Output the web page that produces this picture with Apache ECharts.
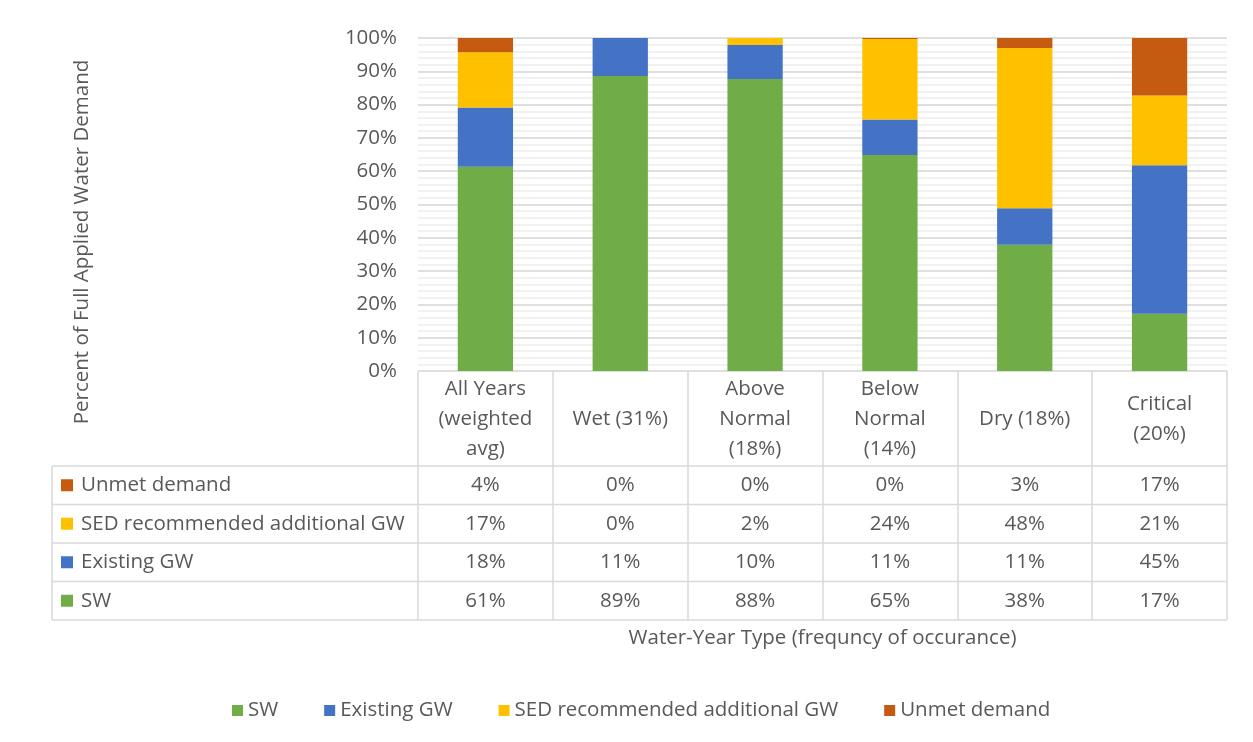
<!DOCTYPE html>
<html><head><meta charset="utf-8">
<script src="https://cdn.jsdelivr.net/npm/echarts@6/dist/echarts.min.js"></script>
<style>html,body{margin:0;padding:0;background:#fff}#c{width:1253px;height:742px}</style>
</head><body><div id="c"></div>
<script>
const categories = ['All Years\n(weighted\navg)', 'Wet (31%)', 'Above\nNormal\n(18%)', 'Below\nNormal\n(14%)', 'Dry (18%)', 'Critical\n(20%)'];
const seriesNames = ['SW', 'Existing GW', 'SED recommended additional GW', 'Unmet demand'];
const sw         = [61.3, 88.6, 87.7, 64.9, 37.9, 17.2];
const existingGW = [17.8, 11.4, 10.2, 10.6, 11.0, 44.6];
const sedGW      = [16.6, 0.0, 2.1, 24.2, 48.1, 20.9];
const unmet      = [4.3, 0.0, 0.0, 0.3, 3.0, 17.3];
const colors = ['#70AD47', '#4472C4', '#FFC000', '#C55A11'];
const yAxisTitle = 'Percent of Full Applied Water Demand';
const xAxisTitle = 'Water-Year Type (frequncy of occurance)';

const FONT = 'Open Sans';
const FS = 20.5;
const TXT = '#595959';
const BORDER = '#d9d9d9';
const seriesData = [sw, existingGW, sedGW, unmet];

const chart = echarts.init(document.getElementById('c'), null, {renderer: 'canvas'});
const option = {
  animation: false,
  textStyle: {fontFamily: FONT},
  grid: {left: 418, right: 26, top: 38, bottom: 371},
  legend: {
    data: seriesNames, bottom: 16, left: 227, icon: 'rect',
    itemWidth: 11, itemHeight: 11, itemGap: 46,
    textStyle: {fontFamily: FONT, fontSize: FS, color: TXT}
  },
  xAxis: {
    type: 'category', data: categories,
    axisLine: {show: false},
    axisTick: {show: true, interval: 0, length: 249, lineStyle: {color: BORDER, width: 1.5}},
    axisLabel: {interval: 0, margin: 48, verticalAlign: 'middle', align: 'center',
      fontFamily: FONT, fontSize: FS, color: TXT, lineHeight: 30},
    name: xAxisTitle, nameLocation: 'middle', nameGap: 257,
    nameTextStyle: {fontFamily: FONT, fontSize: FS, color: TXT}
  },
  yAxis: {
    type: 'value', min: 0, max: 100, interval: 10,
    axisLabel: {formatter: '{value}%', fontFamily: FONT, fontSize: FS, color: TXT, margin: 21},
    splitLine: {lineStyle: {color: '#d4d4d4', width: 1.5}},
    minorTick: {show: false, splitNumber: 5},
    minorSplitLine: {show: true, lineStyle: {color: '#ededed', width: 1.5}}
  },
  series: seriesNames.map((n, i) => ({
    name: n, type: 'bar', stack: 'total', barWidth: '41%',
    itemStyle: {color: colors[i]}, data: seriesData[i]
  }))
};
chart.setOption(option);

// Build data table from axis geometry
const x0 = chart.convertToPixel({gridIndex: 0}, [0, 0]);
const x1 = chart.convertToPixel({gridIndex: 0}, [1, 0]);
const band = x1[0] - x0[0];
const gridLeft = x0[0] - band / 2;
const gridRight = gridLeft + band * categories.length;
const baseY = x0[1];
const headerH = 95, rowH = 38.5;
const tableLeft = 52;
const g = [];
const line = (xa, ya, xb, yb) => g.push({type: 'line', shape: {x1: xa, y1: ya, x2: xb, y2: yb},
  style: {stroke: BORDER, lineWidth: 1.5}, silent: true});
for (let k = 0; k <= 4; k++) {
  const y = baseY + headerH + k * rowH;
  line(tableLeft, y, gridRight, y);
}
line(tableLeft, baseY + headerH, tableLeft, baseY + headerH + 4 * rowH);
const rowOrder = [3, 2, 1, 0];
rowOrder.forEach((si, r) => {
  const cy = baseY + headerH + r * rowH + rowH / 2;
  g.push({type: 'rect', shape: {x: 61, y: cy - 6, width: 12, height: 12}, style: {fill: colors[si]}, silent: true});
  g.push({type: 'text', x: 81, y: cy, style: {text: seriesNames[si], fill: TXT, font: FS + 'px "' + FONT + '"',
    textAlign: 'left', textVerticalAlign: 'middle'}, silent: true});
  seriesData[si].forEach((v, c) => {
    const cx = chart.convertToPixel({gridIndex: 0}, [c, 0])[0];
    g.push({type: 'text', x: cx, y: cy, style: {text: Math.round(v) + '%', fill: TXT, font: FS + 'px "' + FONT + '"',
      textAlign: 'center', textVerticalAlign: 'middle'}, silent: true});
  });
});
g.push({type: 'text', x: 82, y: 242, rotation: Math.PI / 2, style: {text: yAxisTitle, fill: TXT,
  font: FS + 'px "' + FONT + '"', textAlign: 'center', textVerticalAlign: 'middle'}, silent: true});
chart.setOption({graphic: g});
</script></body></html>
